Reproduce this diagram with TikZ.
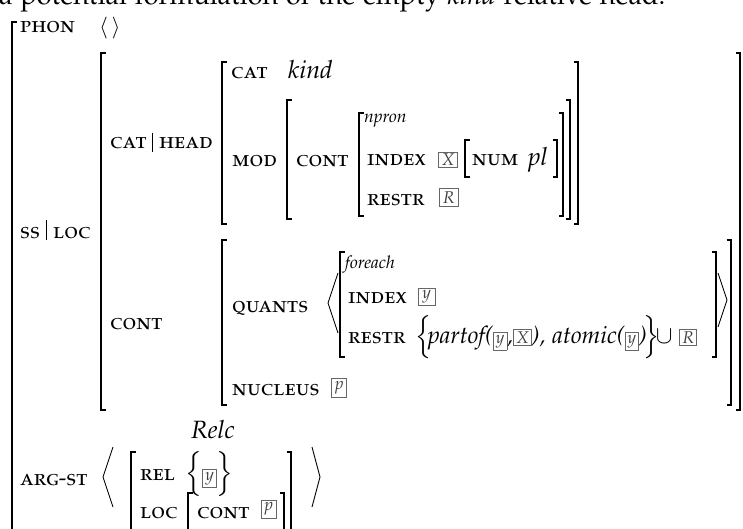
\documentclass[tikz,border=0pt]{standalone}
\usepackage[T1]{fontenc}
\usepackage[sc]{mathpazo}
\usepackage{xcolor}

% boxed tag used inside running formulas
\newcommand\tagx[1]{{\setlength\fboxsep{2pt}\setlength\fboxrule{0.6pt}%
  \fcolorbox{black!60}{white}{\fontsize{17}{19}\selectfont\color{black!75}$#1$}}}
% square brackets of a feature structure: x, top y, bottom y
\newcommand\avmL[3]{\draw[brak] (#1+4.5,#2) -- (#1,#2) -- (#1,#3) -- (#1+4.5,#3);}
\newcommand\avmR[3]{\draw[brak] (#1-4.5,#2) -- (#1,#2) -- (#1,#3) -- (#1-4.5,#3);}

\tikzset{
  brak/.style={line width=1.3pt},
  ang/.style={line width=0.9pt},
  bar/.style={line width=0.9pt},
  attr/.style={anchor=base west, inner sep=0pt, font=\fontsize{22.5}{26}\selectfont\scshape},
  val/.style={anchor=base west, inner sep=0pt, font=\fontsize{25}{29}\selectfont\itshape},
  typ/.style={anchor=base west, inner sep=0pt, font=\fontsize{17.5}{20}\selectfont\itshape},
  tagb/.style={draw=black!60, line width=0.6pt, inner sep=0pt,
    font=\fontsize{17}{19}\selectfont, text=black!75},
}

\begin{document}
\begin{tikzpicture}[x=1pt, y=-1pt]
\clip (0,0) rectangle (743,529);
\fill[white] (0,0) rectangle (743,529);

% running text above the structure
\node[anchor=base west, inner sep=0pt, font=\fontsize{27}{30}\selectfont] (caption) at (-1,5)
  {a potential formulation of the empty \textit{kind} relative head.};

% outermost structure
\avmL{12}{22}{545}
\node[attr] (phon) at (20,33) {phon};
\node[anchor=base west, inner sep=0pt, font=\fontsize{21}{24}\selectfont] (phonv) at (99,34) {$\langle\,\rangle$};

% SS|LOC
\node[attr] (ss) at (20,238) {ss};
\draw[bar] (46,220) -- (46,240);
\node[attr] (loc) at (53,238) {loc};
\avmL{101}{53}{410}
\avmR{740}{53}{410}

% CAT|HEAD
\node[attr] (cat) at (110,149) {cat};
\draw[bar] (152,133) -- (152,152);
\node[attr] (head) at (159,149) {head};
\avmL{222}{62}{224}
\avmR{578}{62}{224}
\node[attr] (cat2) at (231,79) {cat};
\node[val] (kind) at (288,79) {kind};
\node[attr] (mod) at (232,167) {mod};
\avmL{287}{100}{219}
\avmR{570}{100}{219}
\node[attr] (modcont) at (296,167) {cont};
\avmL{359}{113}{216}
\avmR{563}{113}{216}
\node[typ] (npron) at (364,123) {npron};
\node[attr] (index1) at (367,166) {index};
\node[tagb, minimum width=19pt, minimum height=15pt] (tX) at (448,159.5) {$X$};
\avmL{465}{140}{177}
\avmR{557}{140}{177}
\node[attr] (num) at (472,166) {num};
\node[val] (pl) at (528,166) {pl};
\node[attr] (restr1) at (367,205) {restr};
\node[tagb, minimum width=19pt, minimum height=18pt] (tR) at (448.5,197.5) {$R$};

% CONT
\node[attr] (cont) at (110,329) {cont};
\avmL{222}{240}{405}
\avmR{731}{240}{405}
\node[attr] (quants) at (232,312) {quants};
\draw[ang] (338,273) -- (328,303) -- (338,333);
\draw[ang] (718,273) -- (727,300) -- (718,327);
\avmL{340}{252}{357}
\avmR{716}{252}{357}
\node[typ] (foreach) at (345,268) {foreach};
\node[attr] (index2) at (348,303) {index};
\node[tagb, minimum width=17pt, minimum height=17pt] (ty1) at (426.5,296.5) {$y$};
\node[attr] (restr2) at (348,343) {restr};
\node[val, font=\fontsize{24}{30}\selectfont\itshape] (rset) at (415,343)
  {$\Big\{\!$partof(\tagx{y},\tagx{X}), atomic(\tagx{y})$\!\Big\}\!\cup$ \tagx{R}};
\node[attr] (nucleus) at (232,395) {nucleus};
\node[tagb, minimum width=15pt, minimum height=19pt] (tp1) at (339,387.5) {$p$};

% ARG-ST
\node[val] (relc) at (191,438) {Relc};
\node[attr] (argst) at (20,485) {arg-st};
\draw[ang] (113,447) -- (103,477) -- (113,507);
\draw[ang] (312,447) -- (320,477) -- (312,507);
\avmL{131}{452}{545}
\avmR{291}{452}{545}
\node[attr] (rel) at (140,480) {rel};
\node[anchor=base west, inner sep=0pt, font=\fontsize{25}{29}\selectfont] (relset) at (185,480)
  {$\Big\{$\tagx{y}$\Big\}$};
\node[attr] (loc2) at (140,518) {loc};
\avmL{188}{493}{545}
\avmR{284}{493}{545}
\node[attr] (loccont) at (197,518) {cont};
\node[tagb, minimum width=15pt, minimum height=18pt] (tp2) at (268.5,509) {$p$};
\end{tikzpicture}
\end{document}
